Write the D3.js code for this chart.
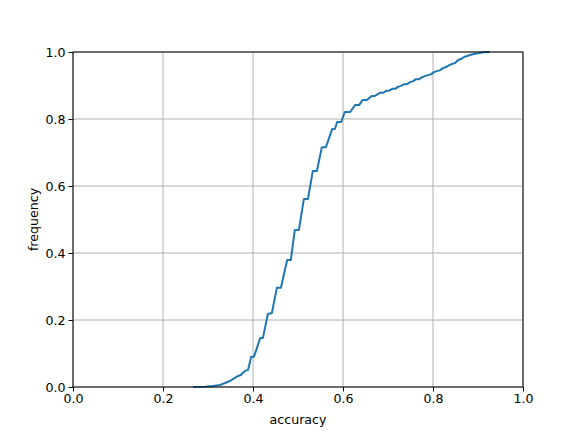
<!DOCTYPE html>
<html>
<head>
<meta charset="utf-8">
<script src="https://cdn.jsdelivr.net/npm/d3@7"></script>
<style>
  body { margin: 0; background: #fff; }
  svg text { font-family: "DejaVu Sans", sans-serif; fill: #000; }
</style>
</head>
<body>
<div id="chart"></div>
<script>
// cumulative accuracy curve
var accuracy = [0.269, 0.293, 0.311, 0.327, 0.338, 0.349, 0.356, 0.367, 0.373, 0.382,
  0.389, 0.396, 0.402, 0.416, 0.422, 0.433, 0.442, 0.453, 0.462, 0.476,
  0.484, 0.493, 0.502, 0.513, 0.522, 0.533, 0.542, 0.553, 0.562, 0.576,
  0.582, 0.587, 0.596, 0.604, 0.616, 0.627, 0.636, 0.644, 0.653, 0.664,
  0.671, 0.682, 0.689, 0.696, 0.702, 0.709, 0.716, 0.722, 0.729, 0.736,
  0.742, 0.749, 0.756, 0.762, 0.769, 0.776, 0.782, 0.789, 0.796, 0.802,
  0.809, 0.816, 0.822, 0.829, 0.836, 0.842, 0.849, 0.856, 0.862, 0.869,
  0.876, 0.882, 0.891, 0.900, 0.911, 0.924];
var frequency = [0, 0.001, 0.003, 0.006, 0.012, 0.018, 0.024, 0.033, 0.036, 0.048,
  0.051, 0.090, 0.090, 0.146, 0.146, 0.218, 0.221, 0.296, 0.296, 0.379,
  0.379, 0.469, 0.469, 0.561, 0.561, 0.645, 0.645, 0.716, 0.716, 0.770,
  0.770, 0.791, 0.791, 0.821, 0.821, 0.842, 0.842, 0.857, 0.857, 0.869,
  0.869, 0.878, 0.878, 0.884, 0.884, 0.890, 0.890, 0.896, 0.899, 0.904,
  0.904, 0.910, 0.913, 0.919, 0.919, 0.925, 0.928, 0.931, 0.934, 0.940,
  0.943, 0.946, 0.952, 0.955, 0.961, 0.964, 0.967, 0.976, 0.979, 0.985,
  0.988, 0.991, 0.994, 0.996, 0.999, 1.0];
var xTicks = [0, 0.2, 0.4, 0.6, 0.8, 1.0];
var yTicks = [0, 0.2, 0.4, 0.6, 0.8, 1.0];

var width = 581,
  height = 436;
var margin = {left: 73, right: 58, top: 52, bottom: 49};

var svg = d3.select('#chart').append('svg')
    .attr('width', width)
    .attr('height', height);

var x = d3.scaleLinear()
    .domain([0, 1])
    .range([margin.left, width - margin.right]);
var y = d3.scaleLinear()
    .domain([0, 1])
    .range([height - margin.bottom, margin.top]);

// grid
svg.append('g').selectAll('line')
  .data(xTicks)
  .enter().append('line')
  .attr('x1', function(d) { return x(d); })
  .attr('x2', function(d) { return x(d); })
  .attr('y1', y(0))
  .attr('y2', y(1))
  .style('stroke', '#b0b0b0')
  .style('stroke-width', 1);
svg.append('g').selectAll('line')
  .data(yTicks)
  .enter().append('line')
  .attr('x1', x(0))
  .attr('x2', x(1))
  .attr('y1', function(d) { return y(d); })
  .attr('y2', function(d) { return y(d); })
  .style('stroke', '#b0b0b0')
  .style('stroke-width', 1);

// curve
var line = d3.line()
    .x(function(d) { return x(d[0]); })
    .y(function(d) { return y(d[1]); });

svg.append('path')
  .datum(d3.zip(accuracy, frequency))
  .attr('d', line)
  .style('fill', 'none')
  .style('stroke', '#1f77b4')
  .style('stroke-width', 2)
  .style('stroke-linejoin', 'round')
  .style('stroke-linecap', 'square');

// frame
svg.append('rect')
  .attr('x', x(0))
  .attr('y', y(1))
  .attr('width', x(1) - x(0))
  .attr('height', y(0) - y(1))
  .style('fill', 'none')
  .style('stroke', '#000')
  .style('stroke-width', 1);

// axes
var xAxis = d3.axisBottom(x).tickValues(xTicks).tickFormat(d3.format('.1f'))
    .tickSize(4.5).tickPadding(3);
var yAxis = d3.axisLeft(y).tickValues(yTicks).tickFormat(d3.format('.1f'))
    .tickSize(4.5).tickPadding(3);

svg.append('g')
  .attr('transform', 'translate(0,' + y(0) + ')')
  .call(xAxis)
  .call(function(g) { g.select('.domain').remove(); })
  .selectAll('text')
  .style('font-size', '12.6px');

svg.append('g')
  .attr('transform', 'translate(' + x(0) + ',0)')
  .call(yAxis)
  .call(function(g) { g.select('.domain').remove(); })
  .selectAll('text')
  .style('font-size', '12.6px');

svg.selectAll('.tick line').style('stroke', '#000').style('stroke-width', 1);

svg.append('text')
  .attr('x', (x(0) + x(1)) / 2)
  .attr('y', 424)
  .attr('text-anchor', 'middle')
  .style('font-size', '12.6px')
  .text('accuracy');

svg.append('text')
  .attr('transform', 'translate(38,' + (y(0) + y(1)) / 2 + ') rotate(-90)')
  .attr('text-anchor', 'middle')
  .style('font-size', '12.6px')
  .text('frequency');
</script>
</body>
</html>
